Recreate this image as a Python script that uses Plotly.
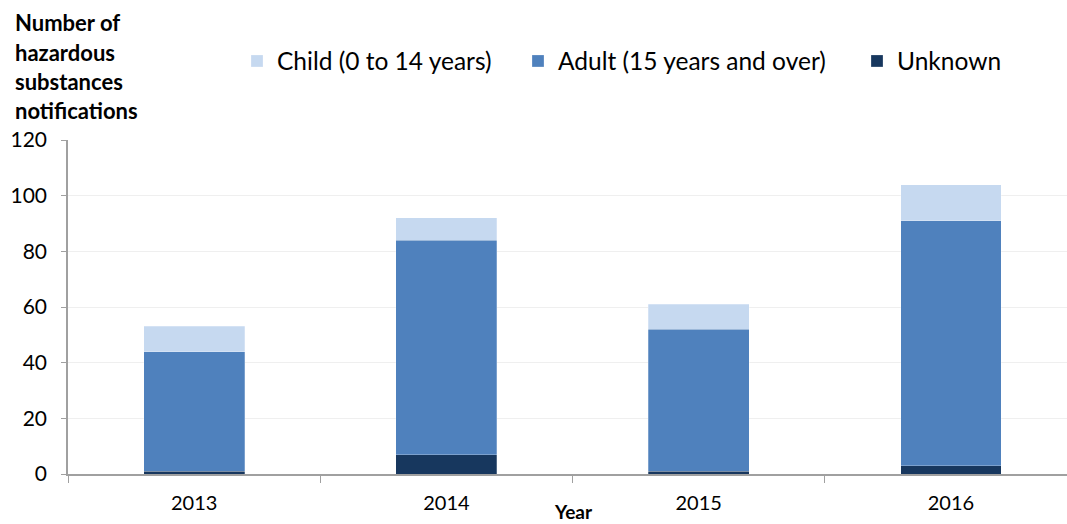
import plotly.graph_objects as go

years = ["2013", "2014", "2015", "2016"]
unknown = [1, 7, 1, 3]
adult = [43, 77, 51, 88]
child = [9, 8, 9, 13]

series_names = ["Unknown", "Adult (15 years and over)", "Child (0 to 14 years)"]
series_colors = ["#17375E", "#4F81BD", "#C6D9F0"]

FONT = "Lato, 'Open Sans', sans-serif"
W, H = 1067, 524
ML, MR, MT, MB = 68, 0, 140, 50
PW, PH = W - ML - MR, H - MT - MB


def px_x(p):
    return (p - ML) / PW


def px_y(p):
    return (H - MB - p) / PH


fig = go.Figure()
legend_ids = ["legend4", "legend3", "legend2"]
for name, vals, col, lg in zip(series_names, [unknown, adult, child], series_colors, legend_ids):
    fig.add_trace(go.Bar(
        x=years, y=vals, name=name, legend=lg,
        marker=dict(color=col, line=dict(color="rgba(255,255,255,0.5)", width=0.5)),
        width=0.4,
    ))

leg_common = dict(orientation="h", yanchor="middle", xanchor="left",
                  font=dict(family=FONT, size=24.5, color="#000000"),
                  bgcolor="rgba(0,0,0,0)", borderwidth=0)
ly = px_y(61)

fig.update_layout(
    width=W, height=H,
    margin=dict(l=ML, r=MR, t=MT, b=MB),
    barmode="stack",
    plot_bgcolor="white", paper_bgcolor="white",
    font=dict(family=FONT, color="#000000"),
    showlegend=True,
    legend2=dict(x=px_x(237), y=ly, **leg_common),
    legend3=dict(x=px_x(518), y=ly, **leg_common),
    legend4=dict(x=px_x(857), y=ly, **leg_common),
    xaxis=dict(
        range=[-0.5, 3.46],
        showline=True, linecolor="#A0A0A0", linewidth=1.5,
        ticks="outside", tickson="boundaries", ticklen=7, tickcolor="#A0A0A0",
        tickfont=dict(family=FONT, size=20, color="#000000"),
        ticklabelstandoff=10,
        showgrid=False,
    ),
    yaxis=dict(
        range=[0, 120], dtick=20,
        showline=True, linecolor="#A0A0A0", linewidth=1.5,
        ticks="outside", ticklen=5, tickcolor="#A0A0A0",
        tickfont=dict(family=FONT, size=21, color="#000000"),
        ticklabelstandoff=10,
        showgrid=True, gridcolor="#EFEFEF", gridwidth=1,
        zeroline=False,
    ),
)

title_lines = ["Number of", "hazardous", "substances", "notifications"]
baselines = [32, 62, 91, 120]
for line, b in zip(title_lines, baselines):
    fig.add_annotation(
        text=f"<b>{line}</b>", xref="paper", yref="paper",
        x=px_x(13), y=px_y(b + 6), xanchor="left", yanchor="bottom",
        showarrow=False, font=dict(family=FONT, size=22, color="#000000"),
    )

fig.add_annotation(
    text="<b>Year</b>", xref="paper", yref="paper",
    x=px_x(573), y=px_y(511), xanchor="center", yanchor="middle",
    showarrow=False, font=dict(family=FONT, size=19, color="#000000"),
)

fig.write_html("out.html", config={"displayModeBar": False},
               post_script="document.body.style.margin='0';")
